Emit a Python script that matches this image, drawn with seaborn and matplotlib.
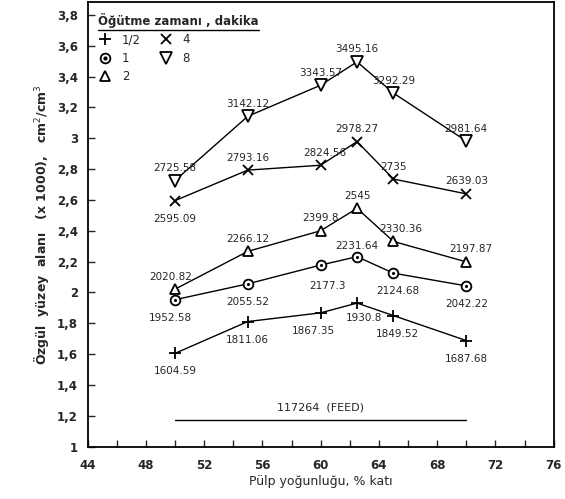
import matplotlib
matplotlib.use("Agg")
import matplotlib.pyplot as plt
import seaborn as sns
import pandas as pd
from matplotlib.ticker import MultipleLocator, FuncFormatter
from matplotlib.lines import Line2D

sns.set_theme(style="ticks")
plt.rcParams['font.family'] = ['DejaVu Sans']

pulp = [50, 55, 60, 62.5, 65, 70]
series_names = ["1/2", "1", "2", "4", "8"]
v_half = [1604.59, 1811.06, 1867.35, 1930.8, 1849.52, 1687.68]
v_1 = [1952.58, 2055.52, 2177.3, 2231.64, 2124.68, 2042.22]
v_2 = [2020.82, 2266.12, 2399.8, 2545, 2330.36, 2197.87]
v_4 = [2595.09, 2793.16, 2824.56, 2978.27, 2735, 2639.03]
v_8 = [2725.58, 3142.12, 3343.57, 3495.16, 3292.29, 2981.64]
feed_value = 1.17264
feed_label = "117264  (FEED)"

labels_half = ["1604.59", "1811.06", "1867.35", "1930.8", "1849.52", "1687.68"]
labels_1 = ["1952.58", "2055.52", "2177.3", "2231.64", "2124.68", "2042.22"]
labels_2 = ["2020.82", "2266.12", "2399.8", "2545", "2330.36", "2197.87"]
labels_4 = ["2595.09", "2793.16", "2824.56", "2978.27", "2735", "2639.03"]
labels_8 = ["2725.58", "3142.12", "3343.57", "3495.16", "3292.29", "2981.64"]

all_vals = [v_half, v_1, v_2, v_4, v_8]
all_labels = [labels_half, labels_1, labels_2, labels_4, labels_8]
markers = ["+", "o", "^", "x", "v"]
msizes = [9, 7, 7.5, 7, 8]
offsets = [
    [(0, -13), (0, -13), (-5, -13), (5, -11), (3, -13), (0, -13)],
    [(-3, -13), (0, -13), (5, -15), (0, 8), (3, -13), (0, -13)],
    [(-3, 9), (0, 9), (0, 9), (0, 9), (5, 9), (3, 9)],
    [(0, -13), (0, 9), (3, 9), (0, 9), (0, 9), (0, 9)],
    [(0, 9), (0, 9), (0, 9), (0, 9), (0, 9), (0, 9)],
]

fig, ax = plt.subplots(figsize=(5.65, 4.99), dpi=100)

handles = []
for name, vals, mk, ms in zip(series_names, all_vals, markers, msizes):
    df = pd.DataFrame({"x": pulp, "y": [v / 1000 for v in vals]})
    sns.lineplot(data=df, x="x", y="y", ax=ax, color="black", linewidth=1.0,
                 marker=mk, markersize=ms, markerfacecolor="white",
                 markeredgecolor="black", markeredgewidth=1.3, legend=False)
    h = Line2D([], [], linestyle="none", marker=mk, markersize=ms,
               markerfacecolor="white", markeredgecolor="black", markeredgewidth=1.3)
    if mk == "o":
        sns.scatterplot(data=df, x="x", y="y", ax=ax, color="black", s=5,
                        linewidth=0, zorder=5, legend=False)
        dot = Line2D([], [], linestyle="none", marker="o", markersize=2,
                     color="black")
        handles.append((h, dot))
    else:
        handles.append(h)

for vals, labs, offs in zip(all_vals, all_labels, offsets):
    for x, v, lab, (dx, dy) in zip(pulp, vals, labs, offs):
        ax.annotate(lab, (x, v / 1000), xytext=(dx, dy), textcoords="offset points",
                    ha="center", va="center", fontsize=7.5)

feed_df = pd.DataFrame({"x": [pulp[0], pulp[-1]], "y": [feed_value, feed_value]})
sns.lineplot(data=feed_df, x="x", y="y", ax=ax, color="black", linewidth=1.0, legend=False)
ax.text((pulp[0] + pulp[-1]) / 2, feed_value + 0.05, feed_label, ha="center", va="bottom", fontsize=8)

ax.set_xlim(44, 76)
ax.set_ylim(1, 3.88)
ax.xaxis.set_major_locator(MultipleLocator(4))
ax.xaxis.set_minor_locator(MultipleLocator(2))
ax.yaxis.set_major_locator(MultipleLocator(0.2))
fmt = lambda v, p: (f"{v:.1f}".rstrip("0").rstrip(".")).replace(".", ",")
ax.yaxis.set_major_formatter(FuncFormatter(fmt))
ax.tick_params(axis="both", which="both", direction="in", length=5, width=1, labelsize=8.5)
ax.tick_params(axis="x", which="both", pad=9)
ax.tick_params(axis="y", which="both", pad=7)
for lab in ax.get_xticklabels() + ax.get_yticklabels():
    lab.set_fontweight("bold")
for s in ax.spines.values():
    s.set_linewidth(1.3)
    s.set_color("black")

ax.set_xlabel("Pülp yoğunluğu, % katı", fontsize=9, labelpad=2)
ax.set_ylabel("Özgül  yüzey  alanı   (x 1000),   cm$^2$/cm$^3$", fontsize=9, fontweight="bold")

leg = ax.legend(handles, series_names, loc="upper left", ncol=2, frameon=False, fontsize=8.5,
                title="Öğütme zamanı , dakika", title_fontsize=8.5,
                handlelength=1.2, columnspacing=1.5, labelspacing=0.45,
                bbox_to_anchor=(0.0, 1.0))
leg.get_title().set_fontweight("bold")
leg._legend_box.align = "left"

fig.subplots_adjust(left=0.155, right=0.98, bottom=0.105, top=0.995)
fig.canvas.draw()
tb = leg.get_title().get_window_extent().transformed(fig.transFigure.inverted())
fig.add_artist(plt.Line2D([tb.x0, tb.x1], [tb.y0 - 0.003, tb.y0 - 0.003],
                          transform=fig.transFigure, color="black", linewidth=1))
fig.savefig("out.png", dpi=100)
